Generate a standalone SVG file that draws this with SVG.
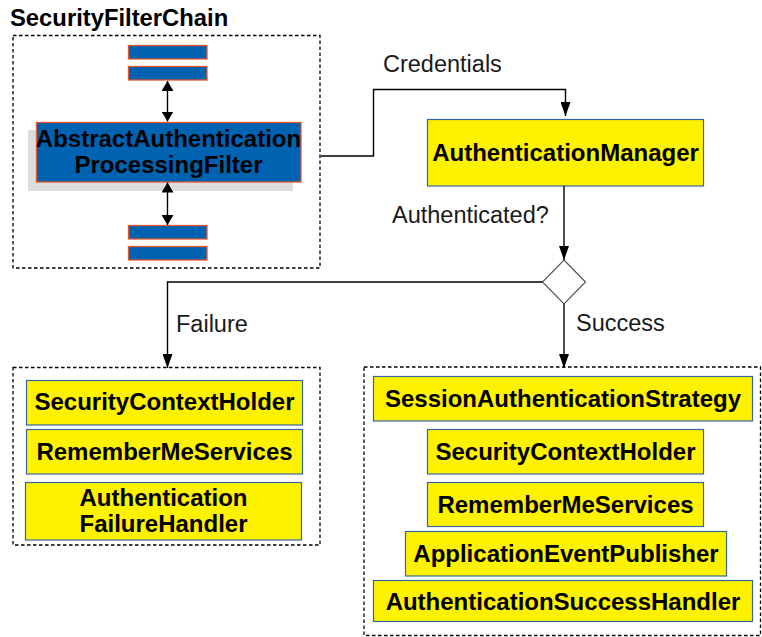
<svg xmlns="http://www.w3.org/2000/svg" width="762" height="637" viewBox="0 0 762 637">
<style>
  .lbl{font-family:"Liberation Sans",Arial,sans-serif;font-size:23.5px;fill:#1a1a1a}
  .bold{font-family:"Liberation Sans",Arial,sans-serif;font-size:24px;font-weight:bold;fill:#000;text-anchor:middle}
  .title{font-family:"Liberation Sans",Arial,sans-serif;font-size:23.8px;font-weight:bold;fill:#000}
  .dash{fill:none;stroke:#000;stroke-width:1.3;stroke-dasharray:3.5,2.5}
  .yel{fill:#fff200;stroke:#3465a4;stroke-width:1.2}
  .blue{fill:#0063b1;stroke:#e8562e;stroke-width:1.3}
  .conn{fill:none;stroke:#000;stroke-width:1.4}
</style>
<defs>
  <marker id="arr" viewBox="0 0 14 10" refX="14" refY="5" markerWidth="14" markerHeight="10" markerUnits="userSpaceOnUse" orient="auto">
    <path d="M0,0 L14,5 L0,10 z" fill="#000"/>
  </marker>
  <marker id="arr2" viewBox="0 0 10 12" refX="10" refY="6" markerWidth="10" markerHeight="12" markerUnits="userSpaceOnUse" orient="auto-start-reverse">
    <path d="M0,0 L10,6 L0,12 z" fill="#000"/>
  </marker>
</defs>

<g id="securityFilterChain">
  <text class="title" x="10" y="26">SecurityFilterChain</text>
  <rect class="dash" x="13" y="35.5" width="307" height="232.5"/>
  <rect class="blue" x="128.5" y="45.5" width="78.5" height="13.5"/>
  <rect class="blue" x="128.5" y="66.5" width="78.5" height="13.5"/>
  <rect class="blue" x="128.5" y="225.5" width="78.5" height="13.5"/>
  <rect class="blue" x="128.5" y="246.5" width="78.5" height="13.5"/>
</g>

<g id="abstractAuthenticationProcessingFilter">
  <rect x="28" y="130" width="265" height="61" fill="#dddddd"/>
  <rect class="blue" x="36.5" y="122.5" width="264.5" height="59.5"/>
  <text class="bold" x="168.5" y="147">AbstractAuthentication</text>
  <text class="bold" x="168.5" y="173">ProcessingFilter</text>
</g>

<g id="authenticationManager">
  <rect class="yel" x="427.5" y="119.5" width="276" height="66.5"/>
  <text class="bold" x="565.5" y="161">AuthenticationManager</text>
</g>

<g id="decision">
  <polygon points="564,260 585.5,282 564,304 542.5,282" fill="#fff" stroke="#555" stroke-width="1.2"/>
</g>

<g id="failureGroup">
  <rect class="dash" x="13" y="367.5" width="307" height="177.5"/>
  <g id="failureSecurityContextHolder">
    <rect class="yel" x="26.5" y="380.5" width="276" height="44.5"/>
    <text class="bold" x="164.5" y="410">SecurityContextHolder</text>
  </g>
  <g id="failureRememberMeServices">
    <rect class="yel" x="26.5" y="429.5" width="276" height="44.5"/>
    <text class="bold" x="164.5" y="459.5">RememberMeServices</text>
  </g>
  <g id="authenticationFailureHandler">
    <rect class="yel" x="25.5" y="482.5" width="276" height="57.5"/>
    <text class="bold" x="163.5" y="506">Authentication</text>
    <text class="bold" x="163.5" y="532">FailureHandler</text>
  </g>
</g>

<g id="successGroup">
  <rect class="dash" x="364" y="367" width="396.5" height="268.5"/>
  <g id="sessionAuthenticationStrategy">
    <rect class="yel" x="373.5" y="376.5" width="379" height="44.5"/>
    <text class="bold" x="563" y="407">SessionAuthenticationStrategy</text>
  </g>
  <g id="successSecurityContextHolder">
    <rect class="yel" x="427.5" y="429.5" width="276" height="44.5"/>
    <text class="bold" x="565.5" y="460">SecurityContextHolder</text>
  </g>
  <g id="successRememberMeServices">
    <rect class="yel" x="427.5" y="482.5" width="276" height="44"/>
    <text class="bold" x="565.5" y="513">RememberMeServices</text>
  </g>
  <g id="applicationEventPublisher">
    <rect class="yel" x="405.5" y="531.5" width="321" height="44.5"/>
    <text class="bold" x="566" y="562">ApplicationEventPublisher</text>
  </g>
  <g id="authenticationSuccessHandler">
    <rect class="yel" x="373.5" y="580.5" width="379" height="41"/>
    <text class="bold" x="563" y="609.5">AuthenticationSuccessHandler</text>
  </g>
</g>

<g id="connectors">
  <line class="conn" x1="167.5" y1="81" x2="167.5" y2="121.5" marker-start="url(#arr2)" marker-end="url(#arr2)"/>
  <line class="conn" x1="167.5" y1="182.5" x2="167.5" y2="225" marker-start="url(#arr2)" marker-end="url(#arr2)"/>
  <polyline class="conn" points="321,156 373.5,156 373.5,89.5 565.5,89.5 565.5,116" marker-end="url(#arr)"/>
  <line class="conn" x1="564" y1="186" x2="564" y2="260" marker-end="url(#arr)"/>
  <polyline class="conn" points="542.5,282 167.5,282 167.5,368" marker-end="url(#arr)"/>
  <line class="conn" x1="564" y1="304" x2="564" y2="368" marker-end="url(#arr)"/>
  <text class="lbl" x="383" y="72">Credentials</text>
  <text class="lbl" x="392" y="223">Authenticated?</text>
  <text class="lbl" x="176" y="332">Failure</text>
  <text class="lbl" x="576" y="331">Success</text>
</g>
</svg>
